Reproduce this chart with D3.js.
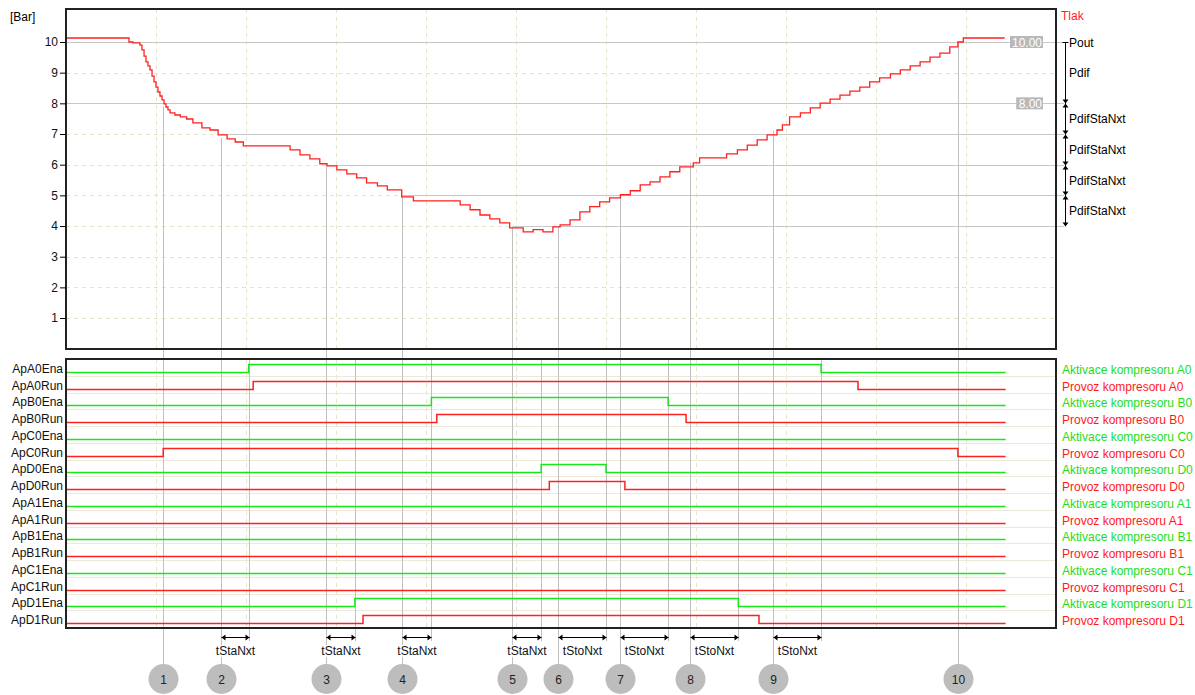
<!DOCTYPE html>
<html>
<head>
<meta charset="utf-8">
<script src="https://cdn.jsdelivr.net/npm/d3@7"></script>
<style>
  body { margin: 0; background: #fff; }
  text { font-family: "Liberation Sans", Arial, sans-serif; font-size: 12px; }
</style>
</head>
<body>
<svg id="chart" width="1195" height="695"></svg>
<script>
// pressure curve [s] / [Bar]
const pressT = [0, 6.4, 7.0, 7.44, 8.22, 8.44, 8.67, 8.89, 9.11, 9.33, 9.56, 9.78, 10.0, 10.22, 10.44, 10.67, 10.89, 11.11, 11.33, 11.56,
  12.1, 12.7, 13.4, 14.1, 15.1, 16.0, 16.9, 17.9, 18.8, 19.7,
  24.3, 24.9, 26.0, 27.1, 28.2, 29.0, 30.1, 31.2, 32.3, 33.4, 34.6, 35.7, 37.3, 38.6, 43.4, 43.8, 44.9, 46.0, 47.1, 48.2, 49.3,
  50.8, 51.9, 53.0, 54.1, 54.9, 56.0, 57.1, 58.2, 59.3, 60.4, 61.6, 62.7, 63.8, 64.9, 66.0, 67.1, 68.2, 69.7, 70.4, 72.3, 73.4,
  74.6, 75.7, 76.8, 77.9, 79.0, 79.6, 80.4, 81.6, 82.7, 83.8, 84.9, 86.0, 87.1, 88.2, 89.3, 90.4, 91.6, 92.7, 93.8, 94.9,
  96.0, 97.1, 98.2, 99.1, 99.7, 104.3];
const pressP = [10.13, 10.13, 10.0, 9.97, 9.9, 9.74, 9.54, 9.35, 9.22, 9.09, 8.89, 8.7, 8.53, 8.37, 8.24, 8.11, 7.98, 7.88, 7.79, 7.69,
  7.62, 7.56, 7.49, 7.36, 7.2, 7.13, 6.97, 6.84, 6.74, 6.61,
  6.61, 6.48, 6.32, 6.19, 6.03, 5.96, 5.83, 5.7, 5.57, 5.41, 5.31, 5.18, 4.95, 4.82, 4.82, 4.69, 4.53, 4.36, 4.23, 4.1, 3.94,
  3.81, 3.88, 3.81, 3.97, 4.04, 4.2, 4.46, 4.63, 4.79, 4.92, 5.02, 5.15, 5.34, 5.44, 5.6, 5.77, 5.93, 6.06, 6.22, 6.22, 6.35,
  6.48, 6.64, 6.81, 6.97, 7.13, 7.3, 7.56, 7.69, 7.85, 8.01, 8.14, 8.27, 8.40, 8.53, 8.70, 8.83, 8.96, 9.09, 9.22, 9.35,
  9.51, 9.64, 9.84, 10.0, 10.13, 10.13];

const yTicks = [1, 2, 3, 4, 5, 6, 7, 8, 9, 10];
const levels = [10, 8, 7, 6, 5, 4];
const levelStart = [0, 0, 17.2, 28.9, 37.3, 49.6];
const bracketLabels = ["Pout", "Pdif", "PdifStaNxt", "PdifStaNxt", "PdifStaNxt", "PdifStaNxt"];
const valueBoxes = ["10.00", "8.00"];

// binary signals: times of on / off edges
const signalNames = ["ApA0Ena", "ApA0Run", "ApB0Ena", "ApB0Run", "ApC0Ena", "ApC0Run", "ApD0Ena", "ApD0Run",
  "ApA1Ena", "ApA1Run", "ApB1Ena", "ApB1Run", "ApC1Ena", "ApC1Run", "ApD1Ena", "ApD1Run"];
const signalEdges = [[20.3, 83.9], [20.8, 88.0], [40.6, 66.9], [41.2, 68.9], [], [10.8, 99.1], [52.8, 60.0], [53.7, 62.1],
  [], [], [], [], [], [], [32.1, 74.7], [33.0, 77.0]];
const signalLegend = ["Aktivace kompresoru A0", "Provoz kompresoru A0", "Aktivace kompresoru B0", "Provoz kompresoru B0",
  "Aktivace kompresoru C0", "Provoz kompresoru C0", "Aktivace kompresoru D0", "Provoz kompresoru D0",
  "Aktivace kompresoru A1", "Provoz kompresoru A1", "Aktivace kompresoru B1", "Provoz kompresoru B1",
  "Aktivace kompresoru C1", "Provoz kompresoru C1", "Aktivace kompresoru D1", "Provoz kompresoru D1"];

// numbered events
const eventT = [10.8, 17.2, 28.9, 37.3, 49.6, 54.7, 61.6, 69.3, 78.6, 99.1];
const eventP = [7.9, 6.87, 5.93, 4.95, 3.94, 4.0, 5.0, 6.06, 7.1, 10.0];
const spanEnd = [null, 20.3, 32.1, 40.6, 52.8, 60.0, 66.9, 74.7, 83.9, null];
const spanLabel = [null, "tStaNxt", "tStaNxt", "tStaNxt", "tStaNxt", "tStoNxt", "tStoNxt", "tStoNxt", "tStoNxt", null];

const GREEN = "#19e619", RED = "#ff2020";
const svg = d3.select("#chart");

const left = 66, right = 1056;
const top1 = 9, bot1 = 349, top2 = 359, bot2 = 628;

const x = d3.scaleLinear().domain([0, 104.4]).range([66, 1005.6]);
const y = d3.scaleLinear().domain([0, 10]).range([348.7, 42]);
const row = d3.scaleLinear().domain([0, 15]).range([372, 623]);

// dashed grid
const gridTimes = d3.range(10, 101, 10);
[[top1, bot1], [top2, bot2]].forEach(([a, b]) => {
  svg.append("g").selectAll("line").data(gridTimes).join("line")
    .attr("x1", d => Math.round(x(d)) + 0.5).attr("x2", d => Math.round(x(d)) + 0.5)
    .attr("y1", a).attr("y2", b)
    .attr("stroke", "#e4e4c8").attr("stroke-dasharray", "4,4");
});
svg.append("g").selectAll("line").data(yTicks.slice(0, 9)).join("line")
  .attr("x1", left).attr("x2", right)
  .attr("y1", d => Math.round(y(d)) + 0.5).attr("y2", d => Math.round(y(d)) + 0.5)
  .attr("stroke", "#e4e4c8").attr("stroke-dasharray", "4,4");

// row separators in lower panel
svg.append("g").selectAll("line").data(signalNames).join("line")
  .attr("x1", left).attr("x2", right)
  .attr("y1", (d, i) => Math.round(row(i)) + 4.5).attr("y2", (d, i) => Math.round(row(i)) + 4.5)
  .attr("stroke", "#ece9d8");

// threshold lines
svg.append("g").selectAll("line").data(levels).join("line")
  .attr("x1", (d, i) => x(levelStart[i])).attr("x2", 1064)
  .attr("y1", d => Math.round(y(d)) + 0.5).attr("y2", d => Math.round(y(d)) + 0.5)
  .attr("stroke", "#c8c8c8");

// event lines
svg.append("g").selectAll("line").data(eventT).join("line")
  .attr("x1", d => Math.round(x(d)) + 0.5).attr("x2", d => Math.round(x(d)) + 0.5)
  .attr("y1", (d, i) => y(eventP[i])).attr("y2", 665)
  .attr("stroke", "#c0c0c0");
svg.append("g").selectAll("line").data(spanEnd.filter(d => d != null)).join("line")
  .attr("x1", d => Math.round(x(d)) + 0.5).attr("x2", d => Math.round(x(d)) + 0.5)
  .attr("y1", top2).attr("y2", 641)
  .attr("stroke", "#c0c0c0");

// pressure curve
svg.append("path")
  .datum(pressT.map((t, i) => [t, pressP[i]]))
  .attr("fill", "none").attr("stroke", RED).attr("stroke-width", 1.3)
  .attr("d", d3.line().x(d => x(d[0])).y(d => y(d[1])).curve(d3.curveStepAfter));

// signals
signalNames.forEach((name, i) => {
  const edges = signalEdges[i];
  const pts = [[0, 0]];
  edges.forEach((t, k) => pts.push([t, k % 2 === 0 ? 1 : 0]));
  pts.push([104.4, edges.length % 2]);
  const base = Math.round(row(i)) + 0.5;
  svg.append("path")
    .datum(pts)
    .attr("fill", "none").attr("stroke", i % 2 === 0 ? GREEN : RED).attr("stroke-width", 1.5)
    .attr("d", d3.line().x(d => x(d[0])).y(d => base - d[1] * 8).curve(d3.curveStepAfter));
});

// panel frames
svg.append("rect").attr("x", left).attr("y", top1).attr("width", right - left).attr("height", bot1 - top1)
  .attr("fill", "none").attr("stroke", "#222").attr("stroke-width", 2);
svg.append("rect").attr("x", left).attr("y", top2).attr("width", right - left).attr("height", bot2 - top2)
  .attr("fill", "none").attr("stroke", "#222").attr("stroke-width", 2);

// y axis
const yAxis = svg.append("g").attr("transform", `translate(${left},0)`)
  .call(d3.axisLeft(y).tickValues(yTicks).tickSize(6).tickPadding(2));
yAxis.select(".domain").remove();
yAxis.selectAll("text").attr("font-size", 12).attr("fill", "#111")
  .attr("font-family", "Liberation Sans, Arial, sans-serif");
svg.append("text").attr("x", 10).attr("y", 21).text("[Bar]");
svg.append("text").attr("x", 1061).attr("y", 20).attr("fill", RED).text("Tlak");

// value boxes
valueBoxes.forEach((v, i) => {
  const yy = y(levels[i]);
  const w = v.length * 6.2 + 2;
  svg.append("rect").attr("x", 1043 - w).attr("y", yy - 6).attr("width", w).attr("height", 12).attr("fill", "#b9b9b9");
  svg.append("text").attr("x", 1042).attr("y", yy + 4.5).attr("text-anchor", "end")
    .attr("fill", "#fff").text(v);
});

// bracket on the right
const bx = 1065.5;
svg.append("line").attr("x1", bx).attr("x2", bx).attr("y1", y(10)).attr("y2", y(4)).attr("stroke", "#000");
svg.append("line").attr("x1", bx - 3).attr("x2", bx + 3).attr("y1", y(10) + 0.5).attr("y2", y(10) + 0.5).attr("stroke", "#000");
levels.slice(1).forEach((lv, i) => {
  const yy = Math.round(y(lv)) + 0.5;
  svg.append("path").attr("d", `M${bx - 3},${yy - 4}L${bx + 3},${yy - 4}L${bx},${yy}Z`).attr("fill", "#000");
  if (i < levels.length - 2) {
    svg.append("path").attr("d", `M${bx - 3},${yy + 4}L${bx + 3},${yy + 4}L${bx},${yy}Z`).attr("fill", "#000");
  }
});
svg.append("text").attr("x", 1069).attr("y", y(10) + 4.5).text(bracketLabels[0]);
levels.slice(1).forEach((lv, i) => {
  svg.append("text").attr("x", 1069).attr("y", y((levels[i] + lv) / 2) + 4.5).text(bracketLabels[i + 1]);
});

// signal labels
svg.append("g").selectAll("text").data(signalNames).join("text")
  .attr("x", 63).attr("y", (d, i) => row(i) + 1).attr("text-anchor", "end").attr("fill", "#111").text(d => d);
svg.append("g").selectAll("text").data(signalLegend).join("text")
  .attr("x", 1062).attr("y", (d, i) => row(i) + 2)
  .attr("fill", (d, i) => i % 2 === 0 ? "#22dd22" : "#ff1a1a").text(d => d);

// time spans with arrows
const ay = 637.5;
eventT.forEach((t, i) => {
  if (spanEnd[i] == null) return;
  const x1 = Math.round(x(t)) + 0.5, x2 = Math.round(x(spanEnd[i])) + 0.5;
  svg.append("line").attr("x1", x1).attr("x2", x2).attr("y1", ay).attr("y2", ay).attr("stroke", "#000");
  svg.append("path").attr("d", `M${x1},${ay}L${x1 + 4},${ay - 3}L${x1 + 4},${ay + 3}Z`).attr("fill", "#000");
  svg.append("path").attr("d", `M${x2},${ay}L${x2 - 4},${ay - 3}L${x2 - 4},${ay + 3}Z`).attr("fill", "#000");
  const cx = (x1 + x2) / 2;
  svg.append("rect").attr("x", cx - 22).attr("y", 645).attr("width", 44).attr("height", 12).attr("fill", "#fff");
  svg.append("text").attr("x", cx).attr("y", 655).attr("text-anchor", "middle").attr("fill", "#111").text(spanLabel[i]);
});

// numbered circles
const circ = svg.append("g").selectAll("g").data(eventT).join("g")
  .attr("transform", d => `translate(${Math.round(x(d)) + 0.5},679)`);
circ.append("circle").attr("r", 15).attr("fill", "#bdbdbd");
circ.append("text").attr("y", 5).attr("text-anchor", "middle").attr("font-size", 13).attr("fill", "#222")
  .text((d, i) => i + 1);
</script>
</body>
</html>
